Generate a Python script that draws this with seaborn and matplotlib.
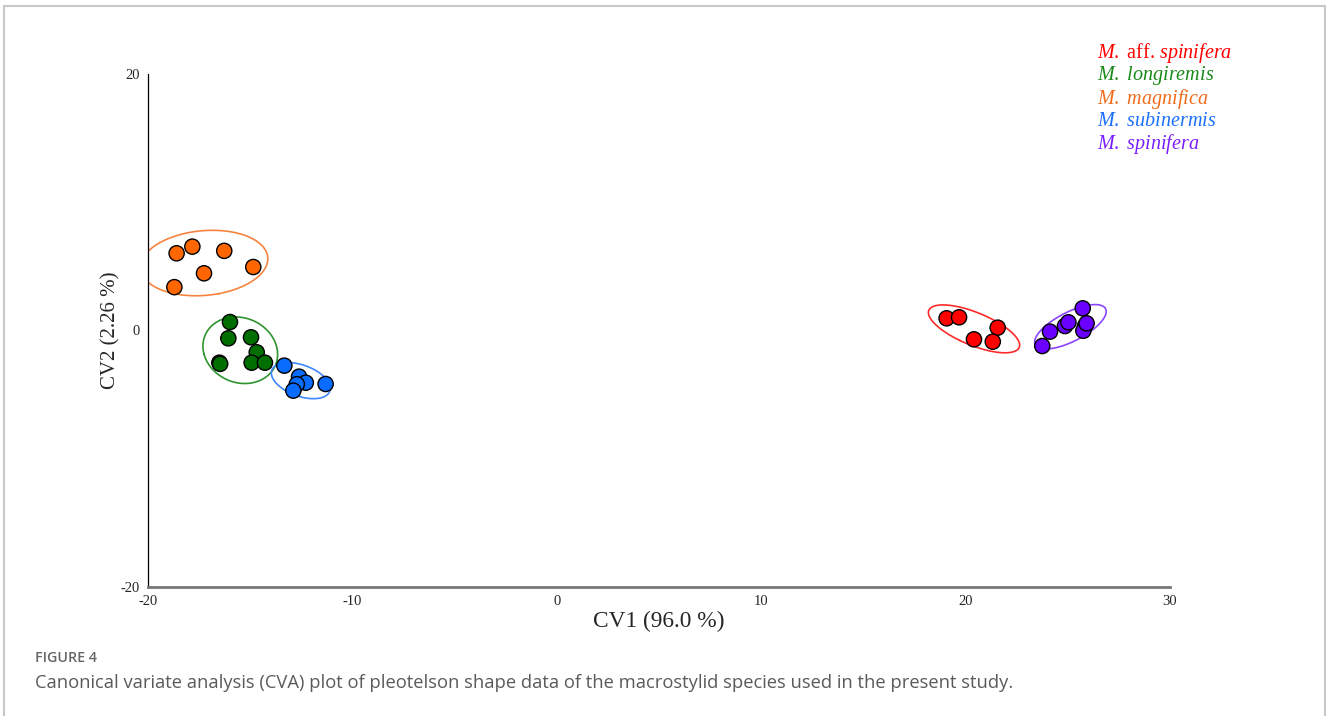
import matplotlib
matplotlib.use("Agg")
import matplotlib.pyplot as plt
import numpy as np
import pandas as pd
import seaborn as sns
from matplotlib.patches import Rectangle

# species, colours and CVA scores
species = ['aff_spinifera', 'longiremis', 'magnifica', 'subinermis', 'spinifera']
labels = [r'$\mathit{M.}$ aff. $\mathit{spinifera}$', r'$\mathit{M.\ longiremis}$',
          r'$\mathit{M.\ magnifica}$', r'$\mathit{M.\ subinermis}$', r'$\mathit{M.\ spinifera}$']
dot_colors = ['#ff0000', '#006e00', '#ff6600', '#0a6cff', '#6a00ff']
ell_colors = ['#ff2a2a', '#2e952e', '#f58440', '#3f88ff', '#8a45ff']
text_colors = ['#ff0000', '#1a8a1a', '#f26b1d', '#1a6fff', '#7a1fff']

aff_x = [19.07, 19.68, 21.57, 20.41, 21.33]
aff_y = [0.95, 1.03, 0.22, -0.69, -0.87]
lon_x = [-15.99, -16.07, -14.96, -14.68, -16.51, -16.47, -14.93, -14.28]
lon_y = [0.66, -0.61, -0.53, -1.70, -2.51, -2.60, -2.51, -2.51]
mag_x = [-18.60, -17.83, -16.27, -17.26, -14.85, -18.71]
mag_y = [6.02, 6.54, 6.21, 4.46, 4.95, 3.38]
sub_x = [-13.33, -12.61, -12.28, -12.72, -12.89, -11.31]
sub_y = [-2.74, -3.60, -4.07, -4.19, -4.69, -4.17]
spi_x = [25.73, 24.13, 23.75, 24.86, 25.03, 25.84, 25.76, 25.92]
spi_y = [1.73, -0.09, -1.21, 0.35, 0.64, 0.35, -0.02, 0.56]

xs = [aff_x, lon_x, mag_x, sub_x, spi_x]
ys = [aff_y, lon_y, mag_y, sub_y, spi_y]

df = pd.concat([pd.DataFrame({'CV1': x, 'CV2': y, 'sp': s}) for x, y, s in zip(xs, ys, species)],
               ignore_index=True)

sns.set_style('white')
plt.rcParams['font.family'] = ['Liberation Serif', 'DejaVu Serif']
plt.rcParams['mathtext.fontset'] = 'custom'
plt.rcParams['mathtext.it'] = 'Liberation Serif:italic'
plt.rcParams['mathtext.rm'] = 'Liberation Serif'
plt.rcParams['axes.unicode_minus'] = False

fig = plt.figure(figsize=(13.28, 7.16), dpi=100)
ax = fig.add_axes([148/1328, 1-587/716, 1022/1328, 513/716])

# ellipses from each group's covariance
k = 2.1
t = np.linspace(0, 2*np.pi, 200)
for x, y, c in zip(xs, ys, ell_colors):
    pts = np.column_stack([x, y])
    m = pts.mean(axis=0)
    vals, vecs = np.linalg.eigh(np.cov(pts.T))
    circ = np.column_stack([np.cos(t), np.sin(t)]) * (k*np.sqrt(vals))
    e = circ @ vecs.T + m
    ax.plot(e[:, 0], e[:, 1], color=c, lw=1.2, zorder=1)

sns.scatterplot(data=df, x='CV1', y='CV2', hue='sp', palette=dict(zip(species, dot_colors)),
                s=120, edgecolor='black', linewidth=1.0, legend=False, ax=ax, zorder=3)

ax.set_xlim(-20, 30)
ax.set_ylim(-20, 20)
ax.set_xticks([-20, -10, 0, 10, 20, 30])
ax.set_yticks([-20, 0, 20])
ax.tick_params(axis='y', direction='out', length=5, width=0.8, labelsize=10.5, pad=1, color='black')
ax.tick_params(axis='x', direction='out', length=4, width=1.0, labelsize=10.5, pad=2, color='#777777')
for s in ['top', 'right']:
    ax.spines[s].set_visible(False)
ax.spines['left'].set_color('black')
ax.spines['left'].set_linewidth(0.9)
ax.spines['bottom'].set_color('#777777')
ax.spines['bottom'].set_linewidth(2.0)
ax.set_xlabel('CV1 (96.0 %)', fontsize=16.8, labelpad=2)
ax.set_ylabel('CV2 (2.26 %)', fontsize=15, labelpad=0)

# legend: coloured text only
for i, (lab, c) in enumerate(zip(labels, text_colors)):
    fig.text(1097/1328, 1-(53 + 22.8*i)/716, lab, color=c, fontsize=14.5, va='center', ha='left')

# caption
fig.text(35/1328, 1-658/716, 'FIGURE 4', family=['Open Sans', 'DejaVu Sans'], fontsize=10.3,
         color='#666666', va='center', weight='semibold')
fig.text(35/1328, 1-683/716,
         'Canonical variate analysis (CVA) plot of pleotelson shape data of the macrostylid species used in the present study.',
         family=['Open Sans', 'DejaVu Sans'], fontsize=13.2, color='#5a5a5a', va='center')

# frame around the figure
fig.patches.append(Rectangle((4/1328, -0.1), 1321/1328, 1.1 - 6/716, transform=fig.transFigure,
                             fill=False, edgecolor='#c8c8c8', lw=1.5))

fig.savefig('out.png', dpi=100)
